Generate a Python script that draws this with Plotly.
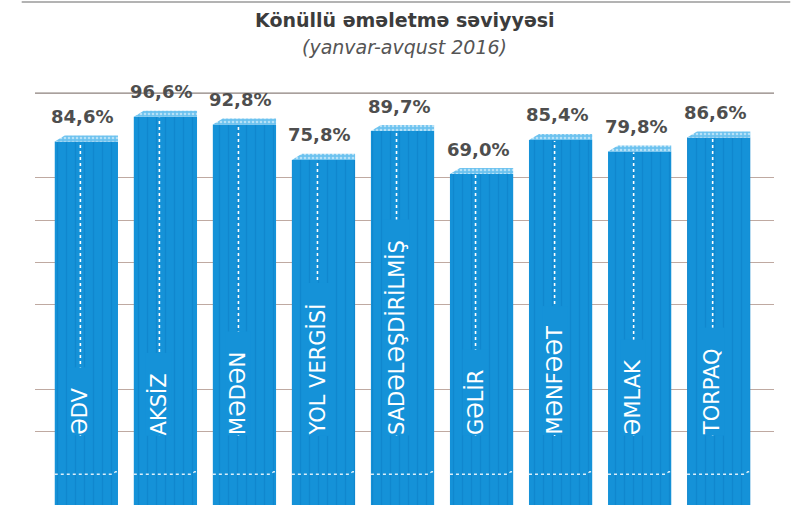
import plotly.graph_objects as go

# ---- data ----
categories = ["ƏDV", "AKSİZ", "MƏDƏN", "YOL VERGİSİ", "SADƏLƏŞDİRİLMİŞ",
              "GƏLİR", "MƏNFƏƏT", "ƏMLAK", "TORPAQ"]
values = [84.6, 96.6, 92.8, 75.8, 89.7, 69.0, 85.4, 79.8, 86.6]
value_labels = ["84,6%", "96,6%", "92,8%", "75,8%", "89,7%",
                "69,0%", "85,4%", "79,8%", "86,6%"]
title_text = "Könüllü əməletmə səviyyəsi"
subtitle_text = "(yanvar-avqust 2016)"

# ---- axis / decoration settings ----
Y_MIN, Y_MAX = -90.44, 114.28          # truncated pictorial scale
grid_values = [67.2, 46.8, 26.4, 6.0, -34.8, -55.2]
top_line_value = 108.0
break_value = -75.6
label_start_value = -57.2
BAR_W = 0.8
CAP_H = 2.9
CAP_DX = 0.126
LINE_DX = -0.076

BAR_COLOR = "#1592d8"
STRIPE_COLOR = "#0b7cc4"
CAP_COLOR = "#6cc2ef"
GRID_COLOR = "#bfa9a1"

idx = list(range(len(categories)))

fig = go.Figure()

# main bars (front face)
fig.add_trace(go.Bar(
    x=idx, y=[v - Y_MIN for v in values], base=Y_MIN, width=BAR_W,
    marker=dict(color=BAR_COLOR, line=dict(width=0),
                pattern=dict(shape="|", fgcolor=STRIPE_COLOR, size=9,
                             solidity=0.15, fgopacity=0.5)),
    hoverinfo="skip", showlegend=False))

# top caps (3D look)
cx, cy = [], []
for i, v in zip(idx, values):
    cx += [i - BAR_W / 2, i - BAR_W / 2 + CAP_DX, i + BAR_W / 2, i + BAR_W / 2, i - BAR_W / 2, None]
    cy += [v, v + CAP_H, v + CAP_H, v, v, None]
fig.add_trace(go.Scatter(
    x=cx, y=cy, mode="lines", fill="toself", fillcolor=CAP_COLOR,
    fillpattern=dict(shape=".", fgcolor="white", size=4, solidity=0.35),
    line=dict(width=0, color=CAP_COLOR), hoverinfo="skip", showlegend=False))

# dotted centre lines
lx, ly = [], []
for i, v in zip(idx, values):
    lx += [i + LINE_DX, i + LINE_DX, None]
    ly += [label_start_value, v - 0.5, None]
fig.add_trace(go.Scatter(
    x=lx, y=ly, mode="lines", line=dict(color="white", width=1.6, dash="dot"),
    hoverinfo="skip", showlegend=False))

# break line at the bottom of each bar
bx, by = [], []
for i in idx:
    bx += [i - BAR_W / 2, i + BAR_W / 2 - 0.07, i + BAR_W / 2 - 0.03, i + BAR_W / 2, None]
    by += [break_value, break_value, break_value + 1.2, break_value + 1.2, None]
fig.add_trace(go.Scatter(
    x=bx, y=by, mode="lines", line=dict(color="rgba(255,255,255,0.85)", width=1.4, dash="dot"),
    hoverinfo="skip", showlegend=False))

annotations = []
# category labels inside bars
for i, name in zip(idx, categories):
    annotations.append(dict(
        x=i, y=label_start_value, xref="x", yref="y", text=name + "\u00a0\u00a0\u00a0",
        textangle=-90, xanchor="center", yanchor="bottom", xshift=-6,
        showarrow=False, bgcolor=BAR_COLOR, borderpad=0,
        font=dict(family="DejaVu Sans", size=21, color="white")))
# value labels
for i, v, lab in zip(idx, values, value_labels):
    annotations.append(dict(
        x=i, y=v, xref="x", yref="y", text="<b>" + lab + "</b>", xanchor="center",
        yanchor="middle", yshift=25, xshift=-4, showarrow=False,
        font=dict(family="DejaVu Sans", size=18, color="#4e4e4e")))
# title and subtitle
annotations.append(dict(
    x=0.5, y=1.141, xref="paper", yref="paper", text="<b>" + title_text + "</b>",
    showarrow=False, xanchor="center", yanchor="middle",
    font=dict(family="DejaVu Sans", size=19, color="#3c3c3c")))
annotations.append(dict(
    x=0.5, y=1.0776, xref="paper", yref="paper", text="<i>" + subtitle_text + "</i>",
    showarrow=False, xanchor="center", yanchor="middle",
    font=dict(family="DejaVu Sans", size=19, color="#555555")))

shapes = [
    dict(type="line", xref="paper", yref="y", x0=0, x1=1, y0=top_line_value, y1=top_line_value,
         line=dict(color="#8c817c", width=1.2), layer="below"),
    dict(type="line", xref="paper", yref="paper", x0=-0.018, x1=1.022, y0=1.1835, y1=1.1835,
         line=dict(color="#9a9a9a", width=1.5)),
]

fig.update_layout(
    width=811, height=505,
    margin=dict(l=35, r=37, t=80, b=0),
    paper_bgcolor="white", plot_bgcolor="white",
    bargap=0.2,
    annotations=annotations, shapes=shapes,
    xaxis=dict(range=[-0.65, 8.7], showgrid=False, showticklabels=False,
               zeroline=False, showline=False, ticks=""),
    yaxis=dict(range=[Y_MIN, Y_MAX], tickvals=grid_values, showticklabels=False,
               showgrid=True, gridcolor=GRID_COLOR, gridwidth=1, zeroline=False,
               showline=False, ticks=""),
)

fig.write_html("out.html", config={"displayModeBar": False},
               post_script="document.body.style.margin='0';document.body.style.padding='0';")
